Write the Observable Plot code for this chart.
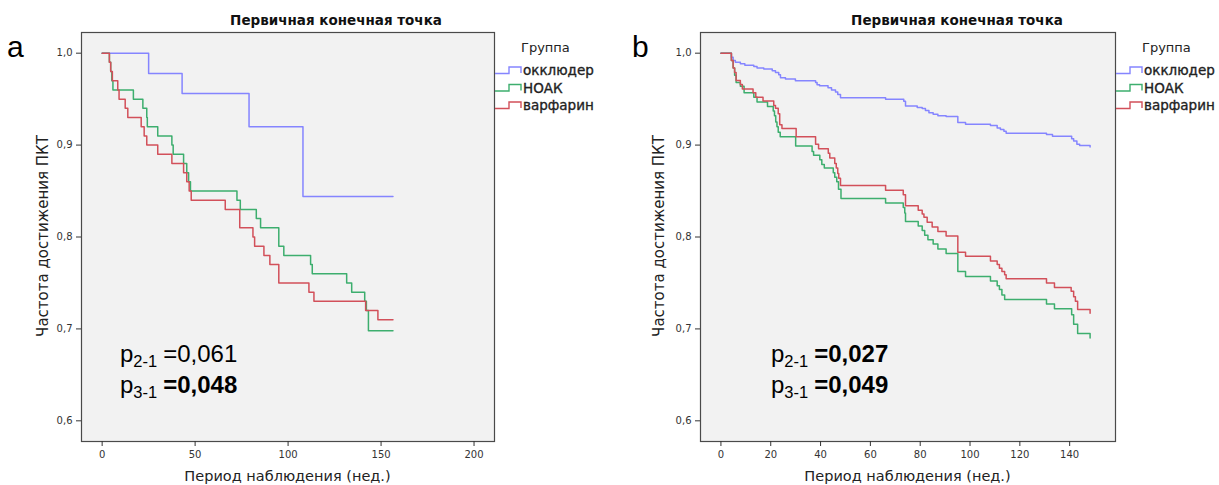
<!DOCTYPE html>
<html><head><meta charset="utf-8">
<script src="https://cdn.jsdelivr.net/npm/d3@7"></script>
<script src="https://cdn.jsdelivr.net/npm/@observablehq/plot@0.6"></script>
<style>
body{margin:0;background:#fff}
#wrap{position:relative;width:1219px;height:485px;overflow:hidden;background:#fff}
#wrap svg{position:absolute}
</style>
</head><body><div id="wrap"></div>
<script>
// ---------- data ----------
const groups = ["окклюдер", "НОАК", "варфарин"];
const groupColors = ["#8585ff", "#3dae6e", "#d2505a"];
const yTicks = [0.6, 0.7, 0.8, 0.9, 1.0];
const aXTicks = [0, 50, 100, 150, 200];
const bXTicks = [0, 20, 40, 60, 80, 100, 120, 140];

// panel a
const aOccT = [0, 25, 43, 79, 108, 156.4];
const aOccV = [1, 0.978, 0.956, 0.920, 0.844, 0.844];
const aNoacT = [0, 3.9, 4.6, 5.2, 5.8, 16.8, 21.9, 24.0, 24.3, 29.9, 37.5, 38.2, 43.8, 45.5, 46.5, 47.5, 72.5, 74.3, 82.9, 85.2, 95.0, 97.7, 112.1, 113.0, 131.5, 134.2, 141.2, 142.1, 143.2, 156.4];
const aNoacV = [1, .99, .98, .97, .96, .95, .94, .93, .92, .91, .90, .89, .88, .87, .86, .85, .84, .83, .82, .81, .79, .78, .77, .76, .75, .74, .73, .72, .698, .698];
const aWarfT = [0, 3.9, 4.6, 5.5, 8.4, 9.1, 12.4, 13.8, 21.0, 22.6, 24.0, 29.9, 37.5, 43.8, 45.5, 46.8, 47.9, 66.2, 74.0, 81.1, 82.0, 87.0, 90.2, 95.0, 111.2, 113.9, 141.7, 148.3, 156.4];
const aWarfV = [1, .99, .98, .97, .96, .95, .94, .93, .92, .91, .90, .89, .88, .87, .86, .85, .84, .83, .81, .80, .79, .78, .77, .75, .74, .73, .72, .71, .71];

// panel b
const bOccT = [0, 4.2, 4.9, 5.8, 7.8, 9.6, 13.2, 14.5, 17.2, 20.6, 21.9, 23.2, 23.9, 25.9, 29.9, 38.0, 38.6, 39.6, 43.0, 44.4, 46.0, 46.9, 48.0, 66.1, 73.4, 74.1, 78.8, 80.8, 82.1, 83.5, 85.2, 87.1, 90.4, 95.1, 98.2, 108.2, 110.9, 112.2, 113.6, 114.5, 130.7, 133.1, 140.8, 141.6, 142.9, 144.0, 148.2];
const bOccV = [1, .9957, .992, .990, .9885, .987, .9856, .984, .9827, .981, .979, .9766, .9733, .972, .970, .968, .9657, .9646, .9625, .960, .9577, .955, .9516, .9498, .9476, .9425, .941, .9397, .9375, .9353, .9335, .932, .931, .9245, .9227, .9212, .9187, .917, .915, .9129, .9115, .9097, .907, .9045, .901, .8996, .898];
const bNoacT = [0, 4.2, 4.9, 5.5, 6.1, 7.8, 9.3, 13.2, 14.5, 18.7, 21.0, 21.5, 22.0, 22.5, 23.0, 23.8, 30.0, 36.6, 37.2, 39.7, 40.5, 41.5, 45.1, 45.7, 46.5, 47.2, 48.2, 66.1, 73.2, 73.8, 74.1, 79.2, 80.8, 81.8, 83.1, 85.2, 87.1, 90.4, 95.1, 98.2, 108.2, 110.9, 111.8, 112.8, 113.9, 130.7, 133.9, 140.8, 141.6, 143.2, 148.2];
const bNoacV = [1, .992, .984, .976, .968, .964, .957, .952, .947, .942, .937, .932, .925, .920, .914, .909, .899, .893, .889, .884, .879, .875, .870, .865, .860, .852, .842, .837, .832, .826, .817, .812, .807, .802, .797, .7925, .787, .782, .7625, .757, .752, .747, .743, .737, .732, .727, .722, .7155, .705, .695, .690];
const bWarfT = [0, 4.2, 4.9, 5.5, 6.1, 7.8, 8.6, 12.9, 14.0, 16.9, 21.2, 21.9, 23.0, 23.6, 24.5, 30.2, 38.0, 39.2, 43.1, 43.7, 45.7, 46.3, 46.9, 47.3, 48.0, 66.1, 73.2, 74.1, 79.2, 80.8, 81.5, 82.8, 84.8, 87.1, 90.4, 95.1, 98.2, 108.2, 110.9, 111.8, 112.8, 113.9, 114.5, 130.7, 133.9, 140.6, 141.6, 142.3, 143.2, 148.2];
const bWarfV = [1, .992, .984, .979, .9704, .966, .961, .957, .952, .948, .943, .940, .934, .922, .918, .909, .901, .896, .891, .886, .880, .875, .869, .864, .856, .851, .846, .834, .829, .825, .8215, .816, .811, .806, .801, .7835, .779, .774, .770, .766, .7625, .759, .7545, .750, .745, .741, .735, .730, .721, .717];

const titleText = "Первичная конечная точка";
const legendTitle = "Группа";
const yLabel = "Частота достижения ПКТ";
const xLabel = "Период наблюдения (нед.)";
const aPvals = [["2-1", "0,061", false], ["3-1", "0,048", true]];
const bPvals = [["2-1", "0,027", true], ["3-1", "0,049", true]];

// ---------- build ----------
function rows(ts, vs, g) { return ts.map((t, i) => ({t, v: vs[i], group: g})); }
const aData = [...rows(aOccT, aOccV, groups[0]), ...rows(aNoacT, aNoacV, groups[1]), ...rows(aWarfT, aWarfV, groups[2])];
const bData = [...rows(bOccT, bOccV, groups[0]), ...rows(bNoacT, bNoacV, groups[1]), ...rows(bWarfT, bWarfV, groups[2])];

const fmtY = d => d.toFixed(1).replace(".", ",");
const wrap = document.getElementById("wrap");

function panel(data, opts) {
  const svg = Plot.plot({
    width: opts.width, height: 485,
    marginLeft: opts.ml, marginRight: opts.mr, marginTop: 32, marginBottom: 44,
    x: {domain: opts.xdom},
    y: {domain: [0.5775, 1.0225]},
    color: {domain: groups, range: groupColors},
    style: {fontFamily: "DejaVu Sans", fontSize: "10px", color: "#333", background: "transparent", overflow: "visible"},
    marks: [
      Plot.frame({fill: "#f2f2f2"}),
      Plot.line(data, {x: "t", y: "v", z: "group", stroke: "group", curve: "step-after", strokeWidth: 1.5}),
      Plot.frame({stroke: "#4a4a4a", strokeWidth: 1.2}),
      Plot.axisX({ticks: opts.xticks, tickFormat: d => String(d), tickSize: 5, tickPadding: 4, label: null}),
      Plot.axisY({ticks: yTicks, tickFormat: fmtY, tickSize: 5, tickPadding: 4, label: null})
    ]
  });
  svg.style.left = opts.left + "px";
  svg.style.top = "0px";
  wrap.appendChild(svg);
}

panel(aData, {width: 610, left: 0, ml: 81, mr: 116, xdom: [-11.1, 211], xticks: aXTicks});
panel(bData, {width: 609, left: 610, ml: 90, mr: 104, xdom: [-8.2, 158.4], xticks: bXTicks});

// ---------- overlay text ----------
const ov = d3.select(wrap).append("svg")
  .attr("width", 1219).attr("height", 485)
  .style("left", "0px").style("top", "0px")
  .style("pointer-events", "none");

function deco(cfg) {
  ov.append("text").attr("x", cfg.letterX).attr("y", 57)
    .attr("font-family", "Liberation Sans, Arial, sans-serif").attr("font-size", 30)
    .attr("fill", "#000").text(cfg.letter);
  ov.append("text").attr("x", cfg.titleX).attr("y", 25).attr("text-anchor", "middle")
    .attr("font-family", "DejaVu Sans").attr("font-weight", "bold").attr("font-size", 13.5)
    .attr("fill", "#111").text(titleText);
  ov.append("text").attr("transform", `translate(${cfg.yLabX},236) rotate(-90)`)
    .attr("text-anchor", "middle").attr("dominant-baseline", "central")
    .attr("font-family", "DejaVu Sans").attr("font-size", 15).attr("fill", "#222").text(yLabel);
  ov.append("text").attr("x", cfg.xLabX).attr("y", 476).attr("text-anchor", "middle")
    .attr("dominant-baseline", "central")
    .attr("font-family", "DejaVu Sans").attr("font-size", 14.5).attr("fill", "#222").text(xLabel);
  ov.append("text").attr("x", cfg.legX + 26).attr("y", 52)
    .attr("font-family", "DejaVu Sans").attr("font-size", 13).attr("fill", "#222").text(legendTitle);
  groups.forEach((g, i) => {
    const cy = 70 + i * 17.5;
    ov.append("path").attr("d", `M${cfg.legX},${cy + 3.5} H${cfg.legX + 14} V${cy - 3} H${cfg.legX + 26} V${cy + 3}`)
      .attr("fill", "none").attr("stroke", groupColors[i]).attr("stroke-width", 1.4);
    ov.append("text").attr("x", cfg.legX + 28).attr("y", cy).attr("dominant-baseline", "central")
      .attr("font-family", "DejaVu Sans").attr("font-size", 13.5)
      .attr("stroke", "#222").attr("stroke-width", 0.35)
      .attr("fill", "#222").text(g);
  });
  cfg.pvals.forEach((p, i) => {
    const t = ov.append("text").attr("x", cfg.pX).attr("y", 362 + i * 30.5)
      .attr("font-family", "Liberation Sans, Arial, sans-serif").attr("font-size", 24).attr("fill", "#000");
    t.append("tspan").text("p");
    t.append("tspan").attr("font-size", 16.5).attr("dy", 5).text(p[0]);
    t.append("tspan").attr("dy", -5).attr("dx", 6).attr("font-weight", p[2] ? "bold" : "normal").text("=");
    t.append("tspan").attr("font-weight", p[2] ? "bold" : "normal").text(p[1]);
  });
}

deco({letter: "a", letterX: 7, titleX: 336, yLabX: 43, xLabX: 287.5, legX: 495, pvals: aPvals, pX: 120});
deco({letter: "b", letterX: 632, titleX: 957, yLabX: 659, xLabX: 907.5, legX: 1116, pvals: bPvals, pX: 771});
</script></body></html>
